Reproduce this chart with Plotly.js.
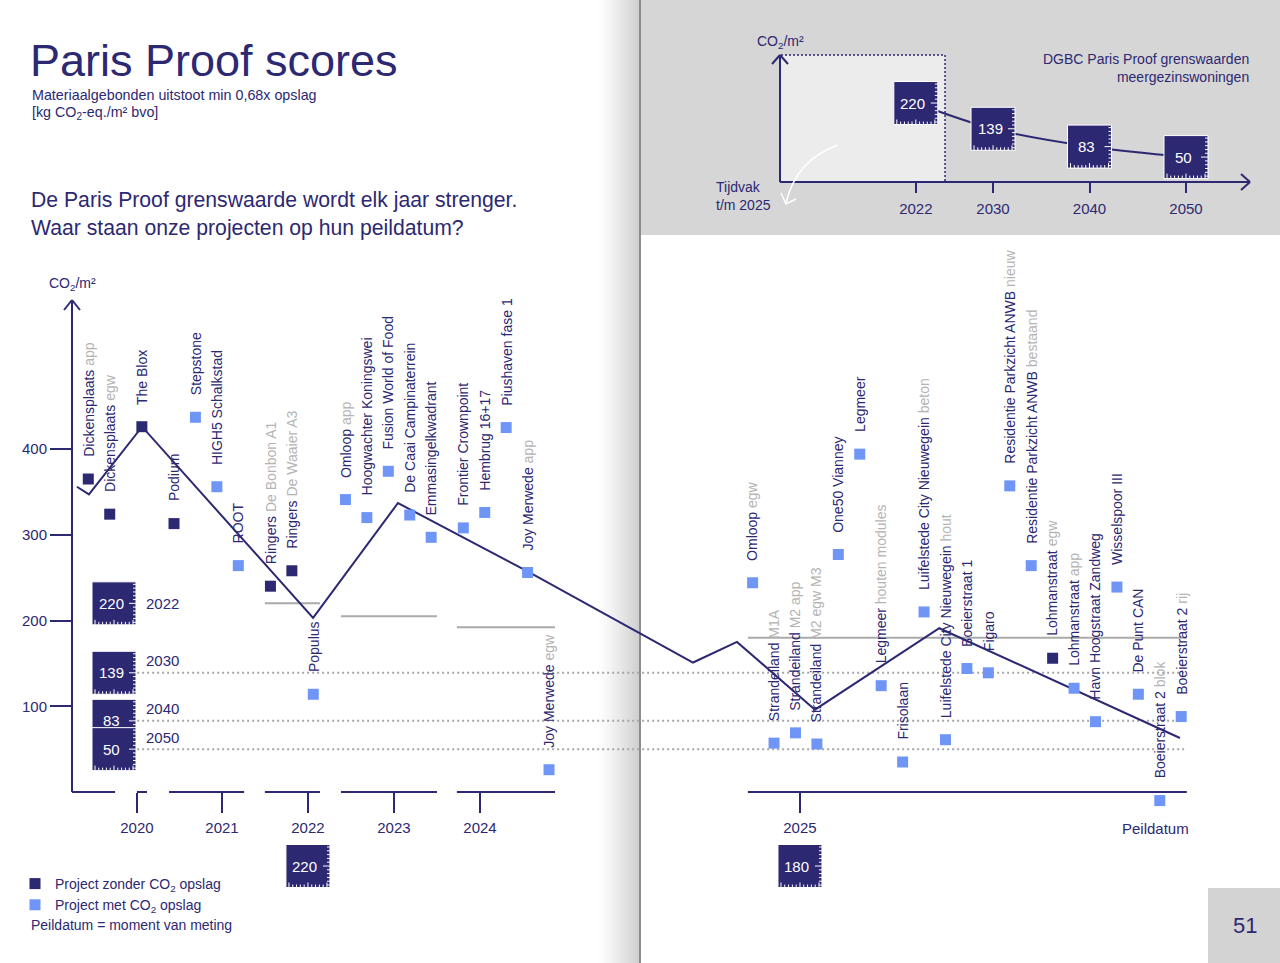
<!DOCTYPE html>
<html>
<head>
<meta charset="utf-8">
<script src="https://cdn.plot.ly/plotly-3.0.1.min.js"></script>
<style>body{margin:0;background:#fff;} #myDiv{width:1280px;height:963px;}</style>
</head>
<body>
<div id="myDiv"></div>
<script>
var navy = '#2d2872';
var blauw = '#6f96f7';
var grijs = '#b4b4b4';
var font = 'Liberation Sans, Arial, sans-serif';

// projecten, op volgorde van peildatum (positie = kolom op de tijdlijn)
var namen = ['Dickensplaats','Dickensplaats','The Blox','Podium','Stepstone','HIGH5 Schalkstad','ROOT','Ringers','Ringers','Populus',
  'Omloop','Hoogwachter Koningswei','Fusion World of Food','De Caai Campinaterrein','Emmasingelkwadrant','Frontier Crownpoint','Hembrug 16+17','Piushaven fase 1','Joy Merwede','Joy Merwede',
  'Omloop','Strandeiland','Strandeiland','Strandeiland','One50 Vianney','Legmeer','Legmeer','Frisolaan','Luifelstede City Nieuwegein','Luifelstede City Nieuwegein',
  'Boeierstraat 1','Figaro','Residentie Parkzicht ANWB','Residentie Parkzicht ANWB','Lohmanstraat','Lohmanstraat','Havn Hoogstraat Zandweg','Wisselspoor III','De Punt CAN','Boeierstraat 2','Boeierstraat 2'];
var toevoeging = ['app','egw','','','','','','De Bonbon A1','De Waaier A3','',
  'app','','','','','','','','app','egw',
  'egw','M1A','M2 app','M2 egw M3','','','houten modules','','beton','hout',
  '','','nieuw','bestaand','egw','app','','','','blok','rij'];
var positie = [0,1,2.5,4,5,6,7,8.5,9.5,10.5,
  12,13,14,15,16,17.5,18.5,19.5,20.5,21.5,
  31,32,33,34,35,36,37,38,39,40,
  41,42,43,44,45,46,47,48,49,50,51];
var co2 = [365,324,426,313,437,356,264,240,258,114,
  341,320,374,323,297,308,326,425,256,26,
  244,57,69,56,277,394,124,35,210,61,
  144,139,357,264,156,121,82,239,114,-10,88];
var metOpslag = [0,0,0,0,1,1,1,0,0,1,
  1,1,1,1,1,1,1,1,1,1,
  1,1,1,1,1,1,1,1,1,1,
  1,1,1,1,0,1,1,1,1,1,1];

// verloop-lijn
var lijnPos = [-0.53,0.03,2.51,10.49,14.45,20.52,28.22,30.27,33.91,39.71,50.94];
var lijnCo2 = [356,347,426,203,337,257,151,175,96,191,63];

// tijdas
var jaren = ['2020','2021','2022','2023','2024','2025'];
var jaarPos = [2.27,6.24,10.25,14.26,18.28,33.21];
var segVan = [-0.76,2.27,3.77,8.24,11.79,17.20,30.78];
var segTot = [1.25,2.74,7.27,10.81,16.27,21.78,51.26];

// grenswaarde per peiljaar
var grensJaar = ['2022','2023','2024','2025'];
var grensWaarde = [220,205,192,180];
var grensVan = [8.24,11.79,17.20,30.78];
var grensTot = [10.81,16.27,21.78,51.26];

// DGBC Paris Proof grenswaarden meergezinswoningen
var dgbcJaar = [2022,2030,2040,2050];
var dgbcWaarde = [220,139,83,50];

function px(x) { return x / 1280; }
function py(y) { return 1 - y / 963; }

var shapes = [];
var annotations = [];

function lijn(x0, y0, x1, y1, kleur, dikte, dash, laag) {
  shapes.push({type:'line', xref:'paper', yref:'paper', x0:px(x0), y0:py(y0), x1:px(x1), y1:py(y1),
    line:{color:kleur, width:dikte, dash:dash || 'solid'}, layer:laag || 'above'});
}
function vlak(x0, y0, x1, y1, kleur) {
  shapes.push({type:'rect', xref:'paper', yref:'paper', x0:px(x0), y0:py(y0), x1:px(x1), y1:py(y1),
    fillcolor:kleur, line:{width:0}, layer:'below'});
}
function tekst(x, y, t, size, opts) {
  var a = {xref:'paper', yref:'paper', x:px(x), y:py(y), text:t, showarrow:false,
    font:{family:font, size:size, color:navy}, xanchor:'left', yanchor:'middle', align:'left'};
  for (var k in opts) a[k] = opts[k];
  annotations.push(a);
}

// liniaal-streepjes in de blokjes
var liniaal = '';
for (var k = -5; k <= 5; k++) {
  var l = k == 0 ? 7 : 3;
  liniaal += 'M22,' + (k * 3.8) + 'L' + (22 - l) + ',' + (k * 3.8);
}
for (var k = -5; k <= 5; k++) {
  var l = (k % 5 == 0) ? 5 : 3;
  liniaal += 'M' + (k * 3.8) + ',-21.5L' + (k * 3.8) + ',' + (-21.5 + l);
}
function blok(xref, x, yref, y, waarde) {
  shapes.push({type:'rect', xref:xref, yref:yref, xsizemode:'pixel', ysizemode:'pixel',
    xanchor:x, yanchor:y, x0:-22, x1:22, y0:-21.5, y1:21.5,
    fillcolor:navy, line:{color:'#ffffff', width:1}, layer:'above'});
  shapes.push({type:'path', xref:xref, yref:yref, xsizemode:'pixel', ysizemode:'pixel',
    xanchor:x, yanchor:y, path:liniaal, line:{color:'#ffffff', width:1}, layer:'above'});
  annotations.push({xref:xref, yref:yref, x:x, y:y, text:String(waarde), showarrow:false, xshift:-3,
    xanchor:'center', yanchor:'middle', font:{family:font, size:15, color:'#ffffff'}});
}

// achtergronden: vouw, grijs paneel, paginanummer
vlak(641, 0, 1280, 235, '#d6d6d6');
for (var i = 0; i < 21; i++) {
  var g = Math.round(255 - (255 - 208) * Math.pow((i + 1) / 21, 1.3));
  vlak(597 + i * 2, 0, 599 + i * 2, 963, 'rgb(' + g + ',' + g + ',' + g + ')');
}
lijn(640, 0, 640, 963, '#8d8d8d', 2, 'solid', 'below');
vlak(1208, 888, 1280, 963, '#d3d3d3');

// hoofdgrafiek: assen
lijn(72, 792, 72, 301, navy, 2);
lijn(64, 310, 72, 300, navy, 2);
lijn(80, 310, 72, 300, navy, 2);
for (var i = 0; i < segVan.length; i++) {
  shapes.push({type:'line', xref:'x', yref:'y', x0:segVan[i], x1:segTot[i], y0:0, y1:0,
    line:{color:navy, width:2}, layer:'above'});
}
for (var i = 0; i < grensWaarde.length; i++) {
  shapes.push({type:'line', xref:'x', yref:'y', x0:grensVan[i], x1:grensTot[i], y0:grensWaarde[i], y1:grensWaarde[i],
    line:{color:'#aaaaaa', width:2}, layer:'below'});
}
for (var i = 1; i < dgbcWaarde.length; i++) {
  shapes.push({type:'line', xref:'x', yref:'y', x0:2.28, x1:51.27, y0:dgbcWaarde[i], y1:dgbcWaarde[i],
    line:{color:'#a6a6a6', width:2, dash:'2px,3px'}, layer:'below'});
}
// grenswaarde-blokjes links
for (var i = 0; i < dgbcWaarde.length; i++) {
  blok('x', 1.2, 'y', dgbcWaarde[i], dgbcWaarde[i]);
}
annotations.push({xref:'x', yref:'y', x:2.6, y:dgbcWaarde[0], text:String(dgbcJaar[0]), showarrow:false, xanchor:'left',
  font:{family:font, size:15, color:navy}});
for (var i = 1; i < dgbcWaarde.length; i++) {
  annotations.push({xref:'x', yref:'y', x:2.6, y:dgbcWaarde[i], yshift:12, text:String(dgbcJaar[i]), showarrow:false, xanchor:'left',
    font:{family:font, size:15, color:navy}});
}
// blokjes onder de tijdas
blok('x', jaarPos[2], 'paper', py(866), grensWaarde[0]);
blok('x', jaarPos[5], 'paper', py(866), grensWaarde[3]);

// projectlabels
for (var i = 0; i < namen.length; i++) {
  var t = namen[i];
  if (toevoeging[i]) t += ' <span style="color:' + grijs + '">' + toevoeging[i] + '</span>';
  annotations.push({xref:'x', yref:'y', x:positie[i], y:co2[i], text:t, textangle:-90, showarrow:false,
    xanchor:'center', yanchor:'bottom', yshift:20, font:{family:font, size:14, color:navy}});
}

// inzet rechtsboven
vlak(781, 55, 945, 181, '#ececec');
lijn(781, 55, 945, 55, navy, 1.5, '2px,2px');
lijn(945, 55, 945, 181, navy, 1.5, '2px,2px');
lijn(780, 182, 780, 56, navy, 2);
lijn(772, 64, 780, 55, navy, 2);
lijn(788, 64, 780, 55, navy, 2);
lijn(780, 182, 1249, 182, navy, 2);
lijn(1241, 174, 1250, 182, navy, 2);
lijn(1241, 190, 1250, 182, navy, 2);
shapes.push({type:'path', xref:'paper', yref:'paper',
  path:'M' + px(838) + ',' + py(145) + ' Q' + px(796) + ',' + py(160) + ' ' + px(786) + ',' + py(203),
  line:{color:'#ffffff', width:1.5}, layer:'above'});
shapes.push({type:'path', xref:'paper', yref:'paper',
  path:'M' + px(781) + ',' + py(193) + ' L' + px(786) + ',' + py(204) + ' L' + px(796) + ',' + py(199),
  line:{color:'#ffffff', width:1.5}, layer:'above'});
for (var i = 0; i < dgbcJaar.length; i++) {
  blok('x2', dgbcJaar[i], 'y2', dgbcWaarde[i], dgbcWaarde[i]);
}

// teksten
tekst(28, 61, 'Paris Proof scores', 45);
tekst(30, 95, 'Materiaalgebonden uitstoot min 0,68x opslag', 14.3);
tekst(30, 113, '[kg CO<sub>2</sub>-eq./m² bvo]', 14.3);
tekst(29, 214, 'De Paris Proof grenswaarde wordt elk jaar strenger.<br>Waar staan onze projecten op hun peildatum?', 21.2);
tekst(72, 284, 'CO<sub>2</sub>/m²', 14, {xanchor:'center'});
tekst(29, 925, 'Peildatum = moment van meting', 14);
tekst(1155, 828, 'Peildatum', 15, {xanchor:'center'});
tekst(780, 42, 'CO<sub>2</sub>/m²', 14, {xanchor:'center'});
tekst(1251, 68, 'DGBC Paris Proof grenswaarden<br>meergezinswoningen', 14, {xanchor:'right', align:'right'});
tekst(714, 196, 'Tijdvak<br>t/m 2025', 14);
tekst(1245, 925, '51', 22, {xanchor:'center'});

var isDonker = metOpslag.map(function (m) { return m == 0; });
function kies(arr, donker) { return arr.filter(function (v, i) { return isDonker[i] == donker; }); }

var data = [
  {x:lijnPos, y:lijnCo2, type:'scatter', mode:'lines', line:{color:navy, width:2}, showlegend:false, hoverinfo:'skip'},
  {x:kies(positie, true), y:kies(co2, true), type:'scatter', mode:'markers', name:'Project zonder CO<sub>2</sub> opslag',
    marker:{symbol:'square', size:11, color:navy}, cliponaxis:false},
  {x:kies(positie, false), y:kies(co2, false), type:'scatter', mode:'markers', name:'Project met CO<sub>2</sub> opslag',
    marker:{symbol:'square', size:11, color:blauw}, cliponaxis:false},
  {x:dgbcJaar, y:dgbcWaarde, xaxis:'x2', yaxis:'y2', type:'scatter', mode:'lines',
    line:{color:navy, width:2, shape:'spline'}, showlegend:false, hoverinfo:'skip'}
];

var layout = {
  width:1280, height:963,
  margin:{l:0, r:0, t:0, b:0},
  paper_bgcolor:'#ffffff', plot_bgcolor:'rgba(0,0,0,0)',
  font:{family:font, color:navy},
  showlegend:true,
  legend:{x:px(15), y:py(868), xanchor:'left', yanchor:'top', bgcolor:'rgba(0,0,0,0)',
    font:{family:font, size:14, color:navy}, tracegroupgap:0},
  xaxis:{domain:[0,1], range:[-4.12,55.61], anchor:'free', position:py(792),
    showgrid:false, zeroline:false, showline:false, ticks:'outside', ticklen:20, tickwidth:2, tickcolor:navy,
    tickvals:jaarPos, ticktext:jaren, tickfont:{family:font, size:15, color:navy}, ticklabelstandoff:2, fixedrange:true},
  yaxis:{domain:[0,1], range:[-199.4,923.6], anchor:'free', position:px(72),
    showgrid:false, zeroline:false, showline:false, ticks:'outside', ticklen:22, tickwidth:2, tickcolor:navy,
    tickvals:[100,200,300,400], tickfont:{family:font, size:15, color:navy}, fixedrange:true},
  xaxis2:{domain:[px(641),1], range:[1993.52,2059.74], anchor:'free', position:py(182),
    showgrid:false, zeroline:false, showline:false, ticks:'outside', ticklen:10, tickwidth:2, tickcolor:navy,
    tickvals:dgbcJaar, tickfont:{family:font, size:15, color:navy}, ticklabelstandoff:3, fixedrange:true},
  yaxis2:{domain:[py(235),1], range:[-195,544], anchor:'x2', visible:false, fixedrange:true},
  shapes:shapes,
  annotations:annotations,
  hovermode:false
};

Plotly.newPlot('myDiv', data, layout, {displayModeBar:false, staticPlot:true});
</script>
</body>
</html>
